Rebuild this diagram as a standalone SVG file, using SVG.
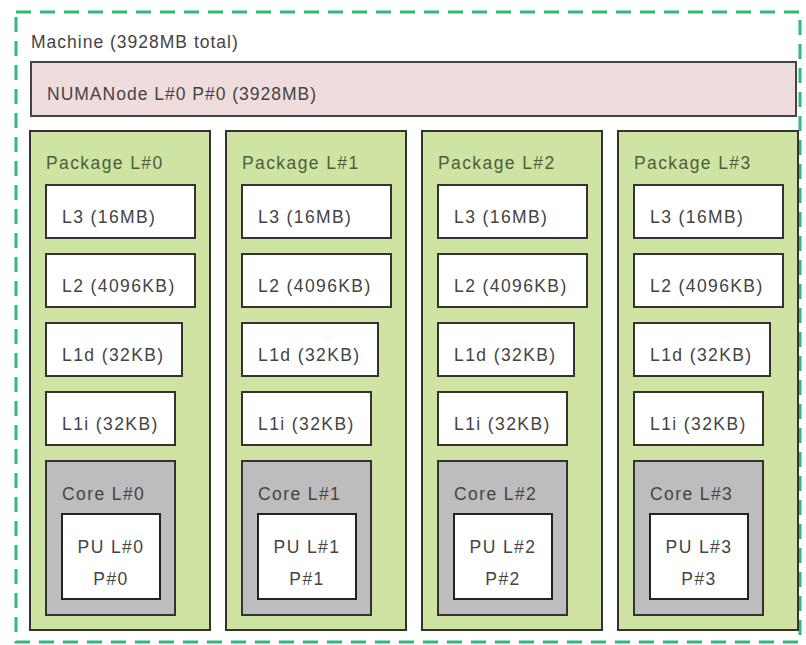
<svg xmlns="http://www.w3.org/2000/svg" width="806" height="645" viewBox="0 0 806 645">
<style>
text{font-family:"Liberation Sans","DejaVu Sans",sans-serif;font-size:17.5px;fill:#444;letter-spacing:1.4px}
.pkg{fill:#cfe4a2;stroke:#333;stroke-width:2}
.pkgt{fill:#4f5e3a}
.cache{fill:#fff;stroke:#333;stroke-width:2}
.core{fill:#bdbdbd;stroke:#333;stroke-width:2}
.pu{fill:#fff;stroke:#222;stroke-width:2}
.mid{text-anchor:middle}
</style>
<rect id="machine-border" x="16" y="12" width="784" height="630" fill="#fff" stroke="#2fba78" stroke-width="3" stroke-dasharray="15 9"/>
<g id="machine"><text x="31" y="48" style="letter-spacing:1px">Machine (3928MB total)</text></g>
<g id="numa"><rect x="31" y="62" width="765" height="54" fill="#efdddd" stroke="#444" stroke-width="2"/><text x="47" y="100" style="letter-spacing:1px">NUMANode L#0 P#0 (3928MB)</text></g>
<g id="pkg0" transform="translate(0,0)">
<rect class="pkg" x="30" y="131" width="180" height="499"/><text class="pkgt" x="46" y="169">Package L#0</text>
<g id="l3-0"><rect class="cache" x="46" y="185" width="149" height="53"/><text x="62" y="223">L3 (16MB)</text></g>
<g id="l2-0"><rect class="cache" x="46" y="254" width="149" height="53"/><text x="62" y="292">L2 (4096KB)</text></g>
<g id="l1d-0"><rect class="cache" x="46" y="323" width="136" height="53"/><text x="62" y="361">L1d (32KB)</text></g>
<g id="l1i-0"><rect class="cache" x="46" y="392" width="129" height="53"/><text x="62" y="430">L1i (32KB)</text></g>
<g id="core0"><rect class="core" x="46" y="461" width="129" height="154"/><text x="62" y="500">Core L#0</text>
<g id="pu0"><rect class="pu" x="62" y="514" width="98" height="85"/><text class="mid" x="111" y="553">PU L#0</text><text class="mid" x="111" y="585">P#0</text></g></g>
</g>
<g id="pkg1" transform="translate(196,0)">
<rect class="pkg" x="30" y="131" width="180" height="499"/><text class="pkgt" x="46" y="169">Package L#1</text>
<g id="l3-1"><rect class="cache" x="46" y="185" width="149" height="53"/><text x="62" y="223">L3 (16MB)</text></g>
<g id="l2-1"><rect class="cache" x="46" y="254" width="149" height="53"/><text x="62" y="292">L2 (4096KB)</text></g>
<g id="l1d-1"><rect class="cache" x="46" y="323" width="136" height="53"/><text x="62" y="361">L1d (32KB)</text></g>
<g id="l1i-1"><rect class="cache" x="46" y="392" width="129" height="53"/><text x="62" y="430">L1i (32KB)</text></g>
<g id="core1"><rect class="core" x="46" y="461" width="129" height="154"/><text x="62" y="500">Core L#1</text>
<g id="pu1"><rect class="pu" x="62" y="514" width="98" height="85"/><text class="mid" x="111" y="553">PU L#1</text><text class="mid" x="111" y="585">P#1</text></g></g>
</g>
<g id="pkg2" transform="translate(392,0)">
<rect class="pkg" x="30" y="131" width="180" height="499"/><text class="pkgt" x="46" y="169">Package L#2</text>
<g id="l3-2"><rect class="cache" x="46" y="185" width="149" height="53"/><text x="62" y="223">L3 (16MB)</text></g>
<g id="l2-2"><rect class="cache" x="46" y="254" width="149" height="53"/><text x="62" y="292">L2 (4096KB)</text></g>
<g id="l1d-2"><rect class="cache" x="46" y="323" width="136" height="53"/><text x="62" y="361">L1d (32KB)</text></g>
<g id="l1i-2"><rect class="cache" x="46" y="392" width="129" height="53"/><text x="62" y="430">L1i (32KB)</text></g>
<g id="core2"><rect class="core" x="46" y="461" width="129" height="154"/><text x="62" y="500">Core L#2</text>
<g id="pu2"><rect class="pu" x="62" y="514" width="98" height="85"/><text class="mid" x="111" y="553">PU L#2</text><text class="mid" x="111" y="585">P#2</text></g></g>
</g>
<g id="pkg3" transform="translate(588,0)">
<rect class="pkg" x="30" y="131" width="180" height="499"/><text class="pkgt" x="46" y="169">Package L#3</text>
<g id="l3-3"><rect class="cache" x="46" y="185" width="149" height="53"/><text x="62" y="223">L3 (16MB)</text></g>
<g id="l2-3"><rect class="cache" x="46" y="254" width="149" height="53"/><text x="62" y="292">L2 (4096KB)</text></g>
<g id="l1d-3"><rect class="cache" x="46" y="323" width="136" height="53"/><text x="62" y="361">L1d (32KB)</text></g>
<g id="l1i-3"><rect class="cache" x="46" y="392" width="129" height="53"/><text x="62" y="430">L1i (32KB)</text></g>
<g id="core3"><rect class="core" x="46" y="461" width="129" height="154"/><text x="62" y="500">Core L#3</text>
<g id="pu3"><rect class="pu" x="62" y="514" width="98" height="85"/><text class="mid" x="111" y="553">PU L#3</text><text class="mid" x="111" y="585">P#3</text></g></g>
</g>
<g id="connectors"/>
</svg>
